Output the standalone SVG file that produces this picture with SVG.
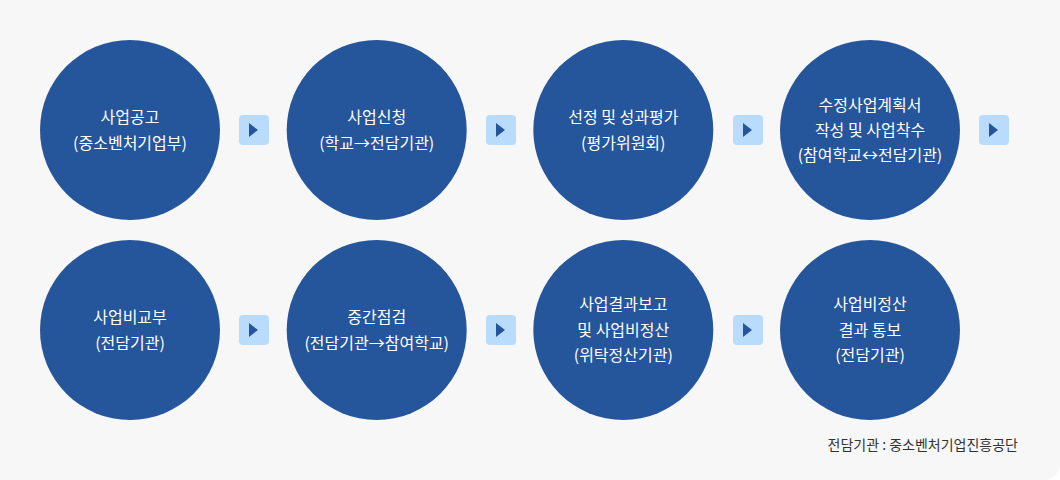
<svg xmlns="http://www.w3.org/2000/svg" width="1060" height="480" viewBox="0 0 1060 480">
<style>
.bg{fill:#f7f7f8}
.c{fill:#25559b}
.t{fill:#ffffff;font-family:"Noto Sans CJK KR","Noto Sans",sans-serif;font-size:16px;font-weight:400;text-anchor:middle}
.box{fill:#b9dcfc}
.tri{fill:#25559b}
.note{fill:#333333;font-family:"Noto Sans CJK KR","Noto Sans",sans-serif;font-size:14px;text-anchor:end}
</style>
<defs>
<g id="arrow"><rect class="box" x="-15" y="-15" width="30" height="30" rx="4"/><path class="tri" d="M-5,-7 L4,0 L-5,7 Z"/></g>
</defs>
<rect class="bg" x="-20" y="-20" width="1080" height="500" rx="16"/>
<g id="connectors">
<use href="#arrow" x="254" y="130"/>
<use href="#arrow" x="501" y="130"/>
<use href="#arrow" x="748" y="130"/>
<use href="#arrow" x="994" y="130"/>
<use href="#arrow" x="254" y="330"/>
<use href="#arrow" x="501" y="330"/>
<use href="#arrow" x="748" y="330"/>
</g>
<g id="n1"><circle class="c" cx="130" cy="130" r="90"/><text class="t" x="130"><tspan x="130" y="123">사업공고</tspan><tspan x="130" y="149">(중소벤처기업부)</tspan></text></g>
<g id="n2"><circle class="c" cx="376.7" cy="130" r="90"/><text class="t"><tspan x="376.7" y="123">사업신청</tspan><tspan x="376.7" y="149">(학교→전담기관)</tspan></text></g>
<g id="n3"><circle class="c" cx="623.3" cy="130" r="90"/><text class="t"><tspan x="623.3" y="123">선정 및 성과평가</tspan><tspan x="623.3" y="149">(평가위원회)</tspan></text></g>
<g id="n4"><circle class="c" cx="870" cy="130" r="90"/><text class="t"><tspan x="870" y="111">수정사업계획서</tspan><tspan x="870" y="135.5">작성 및 사업착수</tspan><tspan x="870" y="160.5">(참여학교↔전담기관)</tspan></text></g>
<g id="n5"><circle class="c" cx="130" cy="330" r="90"/><text class="t"><tspan x="130" y="323">사업비교부</tspan><tspan x="130" y="349">(전담기관)</tspan></text></g>
<g id="n6"><circle class="c" cx="376.7" cy="330" r="90"/><text class="t"><tspan x="376.7" y="323">중간점검</tspan><tspan x="376.7" y="349">(전담기관→참여학교)</tspan></text></g>
<g id="n7"><circle class="c" cx="623.3" cy="330" r="90"/><text class="t"><tspan x="623.3" y="309.5">사업결과보고</tspan><tspan x="623.3" y="335.5">및 사업비정산</tspan><tspan x="623.3" y="360.5">(위탁정산기관)</tspan></text></g>
<g id="n8"><circle class="c" cx="870" cy="330" r="90"/><text class="t"><tspan x="870" y="309.5">사업비정산</tspan><tspan x="870" y="335.5">결과 통보</tspan><tspan x="870" y="360.5">(전담기관)</tspan></text></g>
<text class="note" x="1018" y="450">전담기관 : 중소벤처기업진흥공단</text>
</svg>
